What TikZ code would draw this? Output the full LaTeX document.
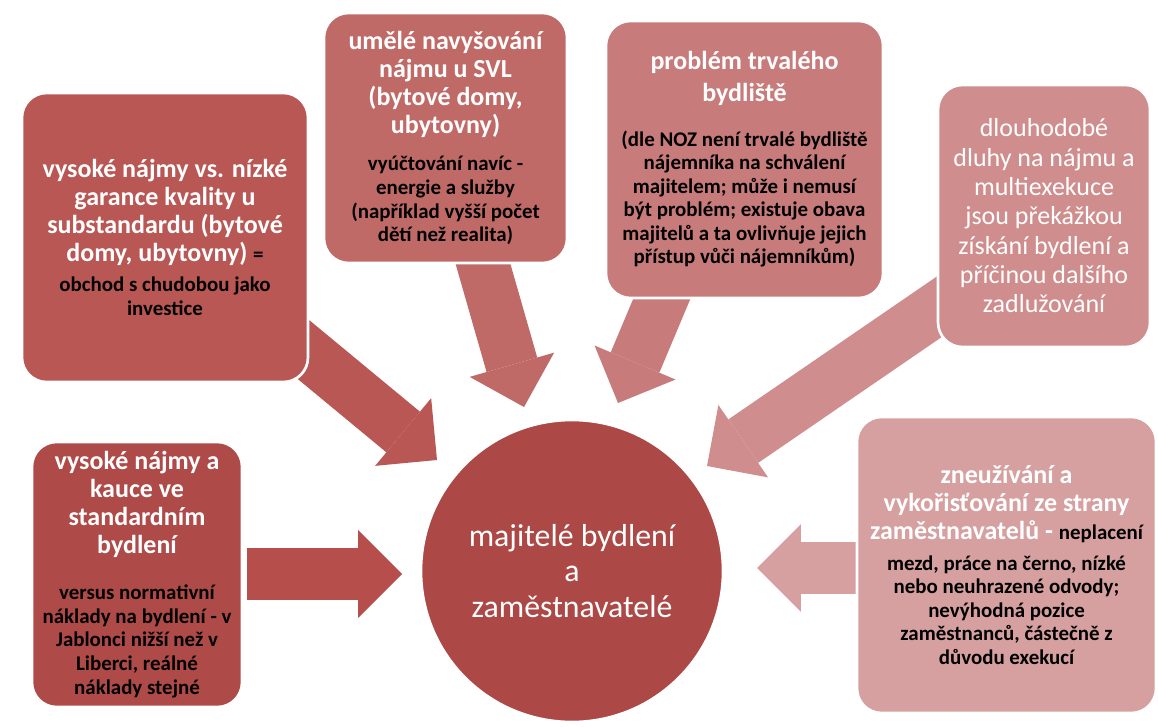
\documentclass[tikz,border=0pt]{standalone}
\usepackage{fontspec}
\setmainfont{Carlito}
\usetikzlibrary{arrows.meta}
\usetikzlibrary{backgrounds}

\definecolor{hubred}{RGB}{172,72,70}
\definecolor{redA}{RGB}{174,74,72}
\definecolor{redAA}{RGB}{182,78,76}
\definecolor{redB}{RGB}{185,87,85}
\definecolor{redC}{RGB}{192,106,104}
\definecolor{redD}{RGB}{199,123,122}
\definecolor{redE}{RGB}{207,141,141}
\definecolor{redF}{RGB}{214,160,160}

\newcommand{\headfont}{\fontsize{14.8pt}{15.9pt}\selectfont\bfseries}
\newcommand{\subtext}{\color{black}\fontsize{11.9pt}{13.4pt}\selectfont\bfseries}

\begin{document}
\begin{tikzpicture}[x=0.02cm,y=-0.02cm,
  box/.style={rectangle,rounded corners=14pt,draw=white,line width=1.5pt,inner sep=0pt,align=flush center,text=white,font=\headfont},
  boxsize/.style 2 args={minimum width=#1*0.02cm,minimum height=#2*0.02cm,text width=#1*0.02cm},
  hub/.style={circle,draw=white,line width=1.5pt,fill=hubred,inner sep=0pt,minimum size=302*0.02cm,text width=250*0.02cm,align=flush center,text=white,font=\fontsize{18.1pt}{20.1pt}\selectfont},
  push/.style={line width=30pt,-{Triangle[length=25pt,width=50pt,line width=0pt]}}]
\useasboundingbox (0,0) rectangle (1158,726);

\node[hub] (owners) at (572,571) {majitelé bydlení\\ a\\ zaměstnavatelé};

\node[box,boxsize={286}{289},fill=redB] (rents) at (165,237.5) {vysoké nájmy vs. nízké\\ garance kvality u\\ substandardu (bytové\\ domy, ubytovny) {\subtext =}\par\vspace{3.6pt}\subtext obchod s chudobou jako\\ investice\par};
\node[box,boxsize={243}{250},fill=redC] (svl) at (445.5,138) {umělé navyšování\\ nájmu u SVL\\ (bytové domy,\\ ubytovny)\par\vspace{8pt}\subtext vyúčtování navíc -\\ energie a služby\\ (například vyšší počet\\ dětí než realita)\par};
\node[box,boxsize={277}{277},fill=redD] (residence) at (744.5,159.5) {problém trvalého\\[2pt] bydliště\par\vspace{12pt}\subtext (dle NOZ není trvalé bydliště\\ nájemníka na schválení\\ majitelem; může i nemusí\\ být problém; existuje obava\\ majitelů a ta ovlivňuje jejich\\ přístup vůči nájemníkům)\par};
\node[box,boxsize={212}{262},fill=redE,font=\fontsize{14.8pt}{16.7pt}\selectfont] (debts) at (1044,216) {dlouhodobé\\ dluhy na nájmu a\\ multiexekuce\\ jsou překážkou\\ získání bydlení a\\ příčinou dalšího\\ zadlužování};
\node[box,boxsize={210}{265},fill=redA] (deposits) at (137,574.5) {vysoké nájmy a\\ kauce ve\\ standardním\\ bydlení\par\vspace{13pt}\subtext versus normativní\\ náklady na bydlení - v\\ Jablonci nižší než v\\ Liberci, reálné\\ náklady stejné\par};
\node[box,boxsize={299}{296},fill=redF] (employers) at (1006.5,565) {zneužívání a\\ vykořisťování ze strany\\ zaměstnavatelů - {\subtext neplacení}\par\vspace{4pt}\subtext mezd, práce na černo, nízké\\ nebo neuhrazené odvody;\\ nevýhodná pozice\\ zaměstnanců, částečně z\\ důvodu exekucí\par};

% block arrows towards the hub
\begin{scope}[on background layer]
\coordinate (rents-out) at (275,326);
\coordinate (svl-out) at (477,243);
\coordinate (residence-out) at (676,265);
\coordinate (debts-out) at (971,285);
\coordinate (deposits-out) at (247,574);
\coordinate (employers-out) at (885,568);
\coordinate (in-rents) at (437,460);
\coordinate (in-svl) at (524,407);
\coordinate (in-residence) at (618,403);
\coordinate (in-debts) at (707,466);
\coordinate (in-deposits) at (402,574);
\coordinate (in-employers) at (757,568);
\draw[push,redB] (rents-out) -- (in-rents);
\draw[push,redC] (svl-out) -- (in-svl);
\draw[push,redD] (residence-out) -- (in-residence);
\draw[push,redE] (debts-out) -- (in-debts);
\draw[push,redAA] (deposits-out) -- (in-deposits);
\draw[push,redF] (employers-out) -- (in-employers);
\end{scope}
\end{tikzpicture}
\end{document}
